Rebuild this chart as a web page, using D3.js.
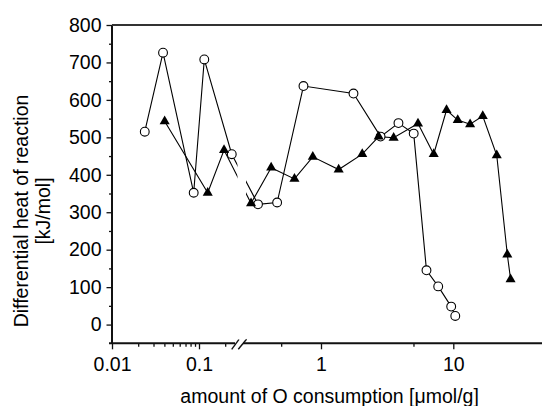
<!DOCTYPE html>
<html><head><meta charset="utf-8">
<script src="https://cdn.jsdelivr.net/npm/d3@7"></script>
<style>
html,body{margin:0;padding:0;background:#fff;}
text{font-family:"Liberation Sans",Arial,sans-serif;fill:#000;}
</style></head>
<body><svg id="c" width="542" height="406"></svg>
<script>
// ---- data ----
const circleX = [0.0238, 0.0386, 0.0869, 0.115, 0.238, 0.334, 0.466, 0.737, 1.76, 2.82, 3.85, 5.02, 6.27, 7.69, 9.64, 10.35];
const circleY = [515, 726, 352, 708, 455, 321, 326, 637, 617, 502, 538, 510, 145, 102, 48, 23];
const triX = [0.0403, 0.126, 0.194, 0.296, 0.42, 0.63, 0.867, 1.36, 2.05, 2.73, 3.54, 5.41, 7.11, 8.89, 10.8, 13.4, 16.7, 21.3, 25.6, 27.1];
const triY = [543, 352, 466, 324, 419, 389, 448, 414, 455, 502, 499, 537, 455, 573, 546, 535, 557, 452, 187, 121];
const xMajorLeft = [0.01, 0.1];
const xMinorLeft = [0.02,0.03,0.04,0.05,0.06,0.07,0.08,0.09,0.2];
const xMajorRight = [1, 10];
const xMinorRight = [0.5, 5];
const yMajor = [0,100,200,300,400,500,600,700,800];
const yMinor = [50,150,250,350,450,550,650,750];
const xBreak = 0.28;
const xTitle = "amount of O consumption [\u03bcmol/g]";
const yTitle1 = "Differential heat of reaction";
const yTitle2 = "[kJ/mol]";

const svg = d3.select("#c");
const FS = 19.5;
const pL = 112, pT = 25, pB = 343.3, pR = 542;
const xL = d3.scaleLog().domain([0.01, 0.1]).range([112, 199]);
const xR = d3.scaleLog().domain([1, 10]).range([321, 453.3]);
const X = v => v <= xBreak ? xL(v) : xR(v);
const y = d3.scaleLinear().domain([-50, 800]).range([pB, pT]);

svg.append("rect").attr("width",542).attr("height",406).attr("fill","#fff");

const fmt = d3.format("~g");
// y axis
const gy = svg.append("g").attr("transform",`translate(${pL},0)`);
gy.call(d3.axisLeft(y).tickValues(yMajor).tickSize(5.5).tickPadding(5).tickSizeOuter(0));
gy.append("g").call(d3.axisLeft(y).tickValues(yMinor).tickSize(3).tickFormat(""));
gy.selectAll(".domain").remove();
gy.selectAll("text").attr("font-size",FS).attr("font-family","Liberation Sans, Arial, sans-serif");
gy.selectAll("line").attr("stroke","#111").attr("stroke-width",1.3);

// x axis
function xAxis(scale, majors, minors){
  const g = svg.append("g").attr("transform",`translate(0,${pB})`);
  g.call(d3.axisBottom(scale).tickValues(majors).tickSize(6).tickPadding(8).tickFormat(fmt));
  g.append("g").call(d3.axisBottom(scale).tickValues(minors).tickSize(3.5).tickFormat(""));
  g.selectAll(".domain").remove();
  g.selectAll("text").attr("font-size",FS).attr("font-family","Liberation Sans, Arial, sans-serif");
  g.selectAll("line").attr("stroke","#111").attr("stroke-width",1.3);
}
xAxis(xL, xMajorLeft, xMinorLeft);
xAxis(xR, xMajorRight, xMinorRight);

// frame
svg.append("line").attr("x1",pL).attr("x2",pL).attr("y1",pT).attr("y2",pB)
  .attr("stroke","#111").attr("stroke-width",2);
svg.append("line").attr("x1",pL).attr("x2",pR).attr("y1",pT).attr("y2",pT)
  .attr("stroke","#333").attr("stroke-width",2);
svg.append("line").attr("x1",pL-3).attr("x2",pR).attr("y1",pB).attr("y2",pB)
  .attr("stroke","#111").attr("stroke-width",2);
// axis break
svg.append("rect").attr("x",235).attr("y",pB-3).attr("width",8).attr("height",6).attr("fill","#fff");
[[231.7,239],[238.3,246.5]].forEach(([a,b])=>{
  svg.append("line").attr("x1",a).attr("y1",pB+6).attr("x2",b).attr("y2",pB-4)
    .attr("stroke","#111").attr("stroke-width",1.4);
});

// data lines
const circ = circleX.map((v,i)=>[v, circleY[i]]);
const tri = triX.map((v,i)=>[v, triY[i]]);
const line = d3.line().x(d=>X(d[0])).y(d=>y(d[1]));
svg.append("path").attr("d",line(circ)).attr("fill","none").attr("stroke","#000").attr("stroke-width",1.1);
svg.append("path").attr("d",line(tri)).attr("fill","none").attr("stroke","#000").attr("stroke-width",1.1);
// break gap in data lines
svg.append("rect").attr("x",237.5).attr("y",pT+2).attr("width",8.5).attr("height",pB-pT-6).attr("fill","#fff");

// markers
svg.selectAll("circle.m").data(circ).enter().append("circle")
  .attr("cx",d=>X(d[0])).attr("cy",d=>y(d[1])).attr("r",4.4)
  .attr("fill","#fff").attr("stroke","#000").attr("stroke-width",1.1);
svg.selectAll("path.t").data(tri).enter().append("path")
  .attr("d",d3.symbol().type(d3.symbolTriangle).size(44))
  .attr("transform",d=>`translate(${X(d[0])},${y(d[1])})`)
  .attr("fill","#000");

// titles
svg.append("text").attr("x",329.6).attr("y",403).attr("text-anchor","middle")
  .attr("font-size",FS).text(xTitle);
svg.append("text").attr("transform","translate(27.6,211) rotate(-90)").attr("text-anchor","middle")
  .attr("font-size",FS).text(yTitle1);
svg.append("text").attr("transform","translate(49.5,211) rotate(-90)").attr("text-anchor","middle")
  .attr("font-size",FS).text(yTitle2);
</script></body></html>
